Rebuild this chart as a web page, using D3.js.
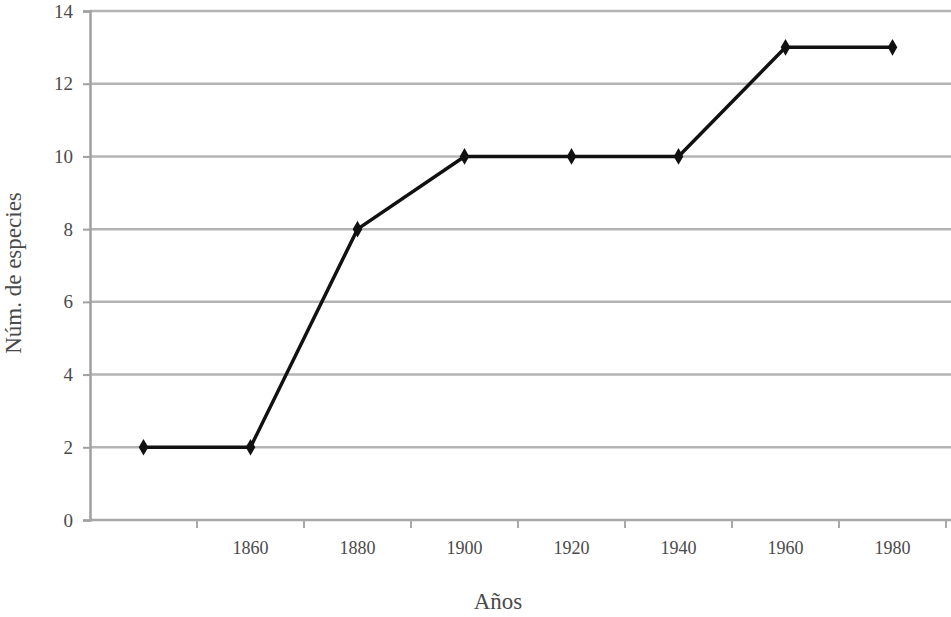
<!DOCTYPE html>
<html lang="es">
<head>
    <meta charset="UTF-8">
    <title>Núm. de especies por año</title>
    <script src="https://d3js.org/d3.v7.min.js"></script>
    <style>
        html, body { margin: 0; background: #fff; overflow: hidden; }
        svg { display: block; }
        svg text { font-family: "Liberation Serif", "DejaVu Serif", serif; fill: #4a4a4a; }
    </style>
</head>
<body>
<script>
    // data
    const years = ["1840", "1860", "1880", "1900", "1920", "1940", "1960", "1980"];
    const yearLabels = ["", "1860", "1880", "1900", "1920", "1940", "1960", "1980"];
    const species = [2, 2, 8, 10, 10, 10, 13, 13];
    const yTicks = [0, 2, 4, 6, 8, 10, 12, 14];

    const width = 951;
    const height = 617;
    const margin = { top: 11, right: 5, bottom: 97, left: 90 };
    const innerHeight = height - margin.top - margin.bottom;

    const svg = d3.select("body")
        .append("svg")
        .attr("width", width)
        .attr("height", height);

    const g = svg.append("g")
        .attr("transform", `translate(${margin.left},${margin.top})`);

    const x = d3.scaleBand()
        .domain(years)
        .range([0, 856]);

    const y = d3.scaleLinear()
        .domain([0, 14])
        .range([innerHeight, 0]);

    // gridlines
    g.selectAll(".grid")
        .data(yTicks.slice(1))
        .enter().append("line")
        .attr("x1", 0)
        .attr("x2", width - margin.left)
        .attr("y1", d => y(d))
        .attr("y2", d => y(d))
        .attr("stroke", "#b4b4b4")
        .attr("stroke-width", 2.5);

    // y axis
    const yAxis = g.append("g")
        .call(d3.axisLeft(y).tickValues(yTicks).tickSize(7).tickPadding(10));
    yAxis.select(".domain").attr("stroke", "#a0a0a0").attr("stroke-width", 2.5);
    yAxis.selectAll(".tick line").attr("stroke", "#a0a0a0").attr("stroke-width", 2);
    yAxis.selectAll(".tick text").style("font-size", "19px").attr("fill", "#4a4a4a");

    // x axis: ticks at category boundaries, labels at centres
    const xAxisG = g.append("g").attr("transform", `translate(0,${innerHeight})`);
    xAxisG.append("line")
        .attr("x1", 0).attr("x2", width - margin.left)
        .attr("stroke", "#a8a8a8").attr("stroke-width", 2.5);
    xAxisG.selectAll(".xtick")
        .data(years)
        .enter().append("line")
        .attr("x1", d => x(d) + x.bandwidth())
        .attr("x2", d => x(d) + x.bandwidth())
        .attr("y1", 0).attr("y2", 8)
        .attr("stroke", "#a8a8a8").attr("stroke-width", 2);
    xAxisG.selectAll(".xlabel")
        .data(years.filter((d, i) => yearLabels[i] !== ""))
        .enter().append("text")
        .attr("x", d => x(d) + x.bandwidth() / 2)
        .attr("y", 34)
        .attr("text-anchor", "middle")
        .style("font-size", "18px")
        .text(d => yearLabels[years.indexOf(d)]);

    // line
    const line = d3.line()
        .x((d, i) => x(years[i]) + x.bandwidth() / 2)
        .y(d => y(d));

    g.append("path")
        .datum(species)
        .attr("fill", "none")
        .attr("stroke", "#111")
        .attr("stroke-width", 3.5)
        .attr("d", line);

    g.selectAll(".pt")
        .data(species)
        .enter().append("path")
        .attr("transform", (d, i) => `translate(${x(years[i]) + x.bandwidth() / 2},${y(d)})`)
        .attr("d", d3.symbol().type(d3.symbolDiamond).size(80))
        .attr("fill", "#111");

    // axis titles
    svg.append("text")
        .attr("x", 498)
        .attr("y", 609)
        .attr("text-anchor", "middle")
        .style("font-size", "23px")
        .text("Años");

    svg.append("text")
        .attr("transform", `translate(21,273) rotate(-90)`)
        .attr("text-anchor", "middle")
        .style("font-size", "23px")
        .text("Núm. de especies");
</script>
</body>
</html>
